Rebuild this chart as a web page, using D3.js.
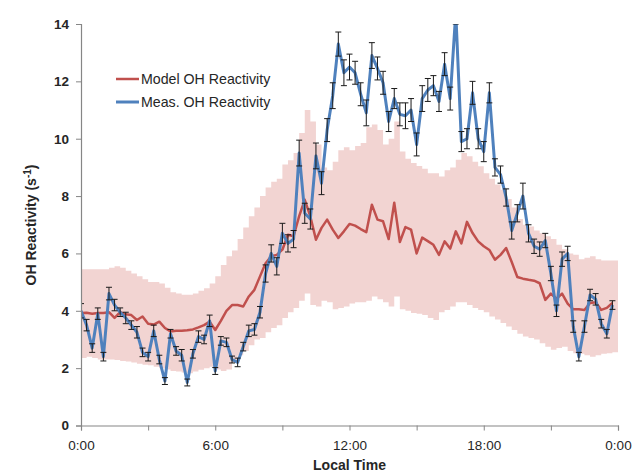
<!DOCTYPE html>
<html>
<head>
<meta charset="utf-8">
<script src="https://cdn.jsdelivr.net/npm/d3@7/dist/d3.min.js"></script>
<style>
  html, body { margin: 0; padding: 0; background: #fff; }
  svg { display: block; }
  text { font-family: "Liberation Sans", Arial, sans-serif; fill: #262626; }
</style>
</head>
<body>
<svg id="chart" width="635" height="473"></svg>
<script>
// OH reactivity over a diurnal cycle, 15-minute averages (s^-1)
const stepMinutes = 15;

const measured = [
  4.0, 3.5, 2.7, 3.9, 2.4, 4.6, 4.2, 3.95,
  3.75, 3.5, 3.25, 2.55, 2.4, 3.3, 2.3, 1.55,
  3.2, 2.6, 2.45, 1.5, 2.5, 3.1, 3.0, 3.65,
  1.9, 2.95, 2.9, 2.3, 2.2, 2.75, 3.3, 3.35,
  3.95, 5.3, 6.0, 5.55, 6.7, 6.35, 6.5, 9.5,
  7.4, 7.2, 9.4, 8.45, 10.3, 11.5, 13.3, 12.3,
  12.5, 12.3, 11.55, 10.9, 12.9, 12.45, 11.95, 10.6,
  11.4, 10.85, 10.8, 11.0, 9.8, 11.4, 11.7, 11.85,
  11.3, 12.6, 11.4, 14.4, 9.9, 10.0, 11.6, 10.0,
  9.55, 11.6, 9.0, 8.75, 7.95, 6.8, 7.4, 8.0,
  6.7, 6.25, 6.15, 6.45, 5.3, 4.0, 5.8, 6.0,
  3.45, 2.4, 3.45, 4.55, 4.4, 3.55, 3.2, 4.2
];

const measuredErr = [
  0.25, 0.2, 0.15, 0.2, 0.15, 0.22, 0.2, 0.15,
  0.2, 0.15, 0.2, 0.15, 0.15, 0.2, 0.15, 0.12,
  0.15, 0.15, 0.2, 0.12, 0.15, 0.2, 0.15, 0.2,
  0.12, 0.15, 0.15, 0.12, 0.15, 0.15, 0.2, 0.2,
  0.2, 0.3, 0.3, 0.3, 0.35, 0.3, 0.3, 0.45,
  0.35, 0.35, 0.45, 0.4, 0.4, 0.45, 0.42, 0.45,
  0.45, 0.4, 0.4, 0.45, 0.45, 0.4, 0.4, 0.35,
  0.35, 0.4, 0.45, 0.4, 0.4, 0.45, 0.4, 0.35,
  0.35, 0.4, 0.4, 0.4, 0.35, 0.35, 0.4, 0.35,
  0.35, 0.35, 0.3, 0.3, 0.3, 0.3, 0.3, 0.45,
  0.3, 0.25, 0.25, 0.25, 0.25, 0.2, 0.25, 0.25,
  0.2, 0.15, 0.2, 0.2, 0.2, 0.15, 0.15, 0.15
];

const model = [
  3.92, 3.93, 3.9, 3.92, 3.92, 3.95, 3.75, 3.95,
  3.88, 3.85, 3.68, 3.8, 3.55, 3.52, 3.62, 3.4,
  3.28, 3.3, 3.3, 3.32, 3.35, 3.42, 3.5, 3.62,
  3.33, 3.65, 4.0, 4.2, 4.2, 4.15, 4.5, 4.73,
  5.2, 5.66, 5.9, 5.95, 6.13, 6.65, 6.6, 7.3,
  7.87, 7.29, 6.48, 6.89, 7.18, 6.83, 6.54, 6.77,
  7.03, 6.97, 6.85, 6.74, 7.7, 7.18, 7.12, 6.5,
  7.77, 6.4, 6.92, 6.83, 6.0, 6.55, 6.43, 6.3,
  5.95, 6.42, 6.17, 6.77, 6.35, 7.1, 6.71, 6.42,
  6.25, 6.12, 5.78, 5.95, 6.19, 5.7, 5.18, 5.12,
  5.08, 5.05, 4.96, 4.38, 4.6, 4.42, 4.6, 4.25,
  4.05, 4.05, 4.03, 4.27, 4.3, 4.03, 4.1, 4.27
];

// model spread (shaded range)
const modelHigh = [
  5.45, 5.45, 5.45, 5.45, 5.45, 5.5, 5.55, 5.5,
  5.4, 5.3, 5.2, 5.1, 5.0, 5.0, 4.95, 4.8,
  4.65, 4.6, 4.56, 4.56, 4.6, 4.7, 4.79, 4.95,
  5.2, 5.6, 5.9, 6.1, 6.5, 6.9, 7.3, 7.6,
  8.0, 8.3, 8.5, 8.6, 9.1, 9.25, 9.5, 10.2,
  11.0, 10.6, 9.8, 9.0, 8.9, 9.2, 9.6, 9.7,
  9.6, 9.75, 9.85, 10.4, 10.5, 10.3, 9.8, 10.0,
  10.6, 9.55, 9.3, 9.15, 9.05, 8.95, 8.8, 8.8,
  8.68, 8.9, 9.0, 9.27, 9.5, 9.39, 9.2, 9.04,
  8.8, 8.6, 8.4, 8.22, 7.9, 7.6, 7.2, 7.0,
  6.94, 6.8, 6.7, 6.6, 6.5, 6.3, 6.15, 6.0,
  5.95, 5.8, 5.85, 5.9, 5.8, 5.75, 5.75, 5.75
];

const modelLow = [
  2.35, 2.4, 2.35, 2.3, 2.3, 2.3, 2.28, 2.25,
  2.23, 2.2, 2.15, 2.12, 2.1, 2.05, 2.0, 1.95,
  1.9, 1.88, 1.85, 1.82, 1.88, 1.94, 2.0, 2.05,
  1.95, 1.9, 1.95, 2.2, 2.45, 2.6, 2.8, 3.0,
  3.05, 3.25, 3.4, 3.5, 3.75, 3.95, 4.1, 4.35,
  4.6, 4.2, 4.15, 4.35, 4.3, 4.05, 4.1, 4.15,
  4.25, 4.3, 4.3, 4.35, 4.5, 4.4, 4.3, 4.15,
  4.5, 4.05, 4.0, 3.92, 3.9, 3.85, 3.75, 3.68,
  3.95, 4.03, 4.15, 4.3, 4.3, 4.2, 4.1, 4.03,
  3.95, 3.8, 3.7, 3.57, 3.45, 3.33, 3.2, 3.1,
  3.05, 3.0, 2.87, 2.75, 2.64, 2.7, 2.75, 2.6,
  2.52, 2.5, 2.45, 2.4, 2.45, 2.5, 2.52, 2.55
];

const xTickMinutes = [0, 180, 360, 540, 720, 900, 1080, 1260, 1440];
const xTickLabels = ["0:00", "", "6:00", "", "12:00", "", "18:00", "", "0:00"];
const yTicks = [0, 2, 4, 6, 8, 10, 12, 14];

const seriesNames = ["Model OH Reactivity", "Meas. OH Reactivity"];
const colors = { model: "#C0504D", meas: "#4F81BD", band: "#F2D4D2", axis: "#868686" };

const svg = d3.select("#chart");
const plot = { left: 81, right: 618, top: 24, bottom: 425.5 };

const x = d3.scaleLinear().domain([0, 1440]).range([plot.left, plot.right]);
const y = d3.scaleLinear().domain([0, 14]).range([plot.bottom, plot.top]);
const tOf = i => i * stepMinutes;

svg.append("defs").append("clipPath").attr("id", "plotClip")
  .append("rect")
  .attr("x", plot.left).attr("y", plot.top)
  .attr("width", plot.right - plot.left + 2)
  .attr("height", plot.bottom - plot.top);

const g = svg.append("g").attr("clip-path", "url(#plotClip)");

// shaded model range, stepped per interval
const bandPts = modelHigh.map((h, i) => ({ t: tOf(i), hi: h, lo: modelLow[i] }));
bandPts.push({ t: tOf(modelHigh.length), hi: modelHigh[modelHigh.length - 1], lo: modelLow[modelLow.length - 1] });
g.append("path")
  .datum(bandPts)
  .attr("fill", colors.band)
  .attr("d", d3.area().curve(d3.curveStepAfter)
    .x(d => x(d.t)).y0(d => y(d.lo)).y1(d => y(d.hi)));

// model line
g.append("path")
  .datum(model)
  .attr("fill", "none")
  .attr("stroke", colors.model)
  .attr("stroke-width", 2.5)
  .attr("stroke-linejoin", "round")
  .attr("d", d3.line().x((d, i) => x(tOf(i))).y(d => y(d)));

// measured line
g.append("path")
  .datum(measured)
  .attr("fill", "none")
  .attr("stroke", colors.meas)
  .attr("stroke-width", 3)
  .attr("stroke-linejoin", "round")
  .attr("d", d3.line().x((d, i) => x(tOf(i))).y(d => y(d)));

// error bars on measurements
const eb = g.append("g").attr("stroke", "#1a1a1a").attr("stroke-width", 1);
measured.forEach((v, i) => {
  const cx = x(tOf(i)), e = measuredErr[i];
  const y1 = y(v + e), y0 = y(v - e);
  eb.append("line").attr("x1", cx).attr("x2", cx).attr("y1", y1).attr("y2", y0);
  eb.append("line").attr("x1", cx - 3).attr("x2", cx + 3).attr("y1", y1).attr("y2", y1);
  eb.append("line").attr("x1", cx - 3).attr("x2", cx + 3).attr("y1", y0).attr("y2", y0);
});

// axes
const yAxis = svg.append("g")
  .attr("transform", `translate(${plot.left},0)`)
  .call(d3.axisLeft(y).tickValues(yTicks).tickSize(5).tickPadding(7).tickFormat(d3.format("d")));
const xAxis = svg.append("g")
  .attr("transform", `translate(0,${plot.bottom})`)
  .call(d3.axisBottom(x).tickValues(xTickMinutes).tickSize(5).tickPadding(10)
    .tickFormat((d, i) => xTickLabels[i]));

[yAxis, xAxis].forEach(a => {
  a.select(".domain").attr("stroke", colors.axis).attr("stroke-width", 1.2);
  a.selectAll(".tick line").attr("stroke", colors.axis);
  a.selectAll("text").attr("fill", "#262626")
    .style("font-family", '"Liberation Sans", Arial, sans-serif');
});
yAxis.selectAll("text").style("font-size", "13.5px").style("font-weight", "bold");
xAxis.selectAll("text").style("font-size", "13.5px");

// axis titles
svg.append("text")
  .attr("x", (plot.left + plot.right) / 2).attr("y", 470)
  .attr("text-anchor", "middle")
  .style("font-size", "14px").style("font-weight", "bold")
  .text("Local Time");

const yt = svg.append("text")
  .attr("transform", "translate(36,225) rotate(-90)")
  .attr("text-anchor", "middle")
  .style("font-size", "14px").style("font-weight", "bold");
yt.append("tspan").text("OH Reactivity (s");
yt.append("tspan").attr("dy", -5).style("font-size", "10px").text("-1");
yt.append("tspan").attr("dy", 5).text(")");

// legend
const legend = svg.append("g").attr("transform", "translate(116,79)");
[colors.model, colors.meas].forEach((c, i) => {
  const row = legend.append("g").attr("transform", `translate(0,${i * 23})`);
  row.append("line").attr("x1", 0).attr("x2", 23).attr("y1", 0).attr("y2", 0)
    .attr("stroke", c).attr("stroke-width", i === 0 ? 2.5 : 3);
  row.append("text").attr("x", 25).attr("y", 5)
    .style("font-size", "14.2px").text(seriesNames[i]);
});
</script>
</body>
</html>
